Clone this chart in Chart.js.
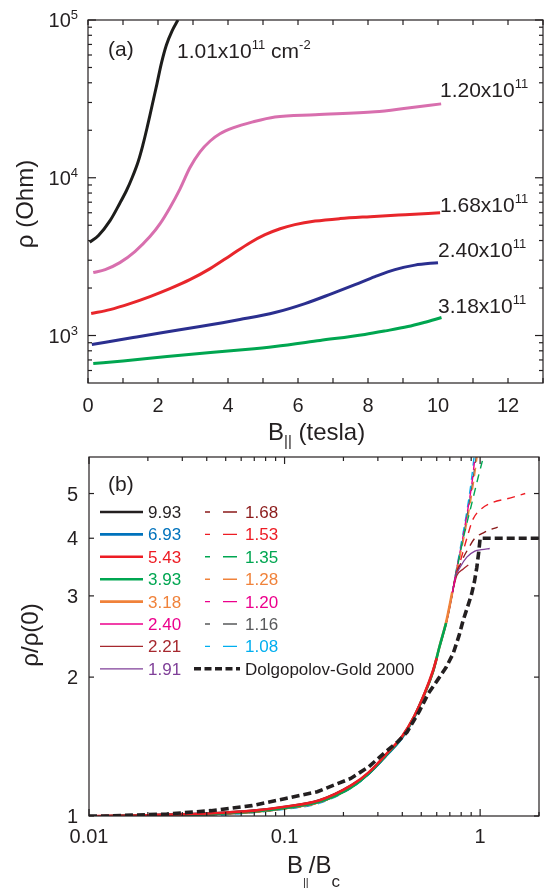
<!DOCTYPE html>
<html>
<head>
<meta charset="utf-8">
<script src="https://cdn.jsdelivr.net/npm/chart.js@4.4.0/dist/chart.umd.min.js"></script>
<style>
html, body { margin: 0; padding: 0; background: #fff; }
#wrap { position: relative; width: 550px; height: 889px; }
canvas { position: absolute; left: 0; top: 0; }
</style>
</head>
<body>
<div id="wrap">
  <canvas id="chartA" width="550" height="889"></canvas>
  <canvas id="chartB" width="550" height="889"></canvas>
</div>
<script>
// ---- panel (a): rho vs B (tesla), densities in 10^11 cm^-2
const densitiesA = ['1.01', '1.20', '1.68', '2.40', '3.18'];
const rho101 = [[0.05,3900],[0.3,4300],[0.63,5350],[0.91,6900],[1.1,8300],[1.26,10000],[1.43,12600],[1.57,16200],[1.7,21300],[1.83,28600],[1.97,39400],[2.1,53500],[2.24,69500],[2.4,85100],[2.57,100000]];
const rho120 = [[0.15,2506],[0.49,2618],[0.91,2897],[1.34,3404],[1.77,4236],[2.06,5117],[2.34,6457],[2.63,8511],[2.91,11560],[3.2,14600],[3.49,17100],[3.77,19000],[4.14,20700],[4.71,22600],[5.34,24300],[6.49,25100],[8.2,26200],[9.14,27700],[10.09,29400]];
const rho168 = [[0.09,1378],[0.63,1460],[1.2,1594],[1.77,1766],[2.34,1982],[2.91,2259],[3.49,2655],[4.06,3206],[4.63,3877],[5.06,4357],[5.49,4753],[5.91,5043],[6.49,5311],[7.2,5508],[8.06,5666],[9.06,5834],[10.06,6000]];
const rho240 = [[0.11,877],[1.29,971],[2.06,1037],[3.2,1140],[4.34,1263],[5.34,1398],[6.2,1594],[6.97,1844],[7.63,2101],[8.2,2362],[8.77,2618],[9.34,2794],[10.0,2897]];
const rho318 = [[0.15,665],[1.0,690],[2.26,736],[3.5,780],[4.5,815],[5.34,852],[6.63,930],[7.91,1015],[8.5,1070],[9.14,1140],[9.6,1210],[10.1,1300]];
const fieldLabelsA = [0, 2, 4, 6, 8, 10, 12];
const rhoDecades = [1e3, 1e4, 1e5];
const rhoExps = ['3', '4', '5'];

// ---- panel (b): rho/rho(0) vs B/Bc
const densitiesB = ['9.93','6.93','5.43','3.93','3.18','2.40','2.21','1.91','1.68','1.53','1.35','1.28','1.20','1.16','1.08'];
const s993 = [[0.012,1.0],[0.02,1.004],[0.03,1.008],[0.045,1.014],[0.07,1.027],[0.1,1.046],[0.15,1.08],[0.22,1.165],[0.27,1.24],[0.33,1.352]];
const s693 = [[0.014,1.0],[0.02,1.003],[0.03,1.007],[0.045,1.013],[0.07,1.025],[0.1,1.043],[0.15,1.075],[0.22,1.158],[0.27,1.236],[0.33,1.35],[0.4,1.48],[0.46,1.635],[0.5,1.77]];
const s543 = [[0.011,1.0],[0.02,1.004],[0.03,1.008],[0.045,1.015],[0.07,1.027],[0.1,1.047],[0.15,1.08],[0.22,1.166],[0.27,1.245],[0.33,1.36],[0.4,1.49],[0.46,1.645],[0.52,1.845],[0.575,2.07],[0.6,2.2]];
const s393 = [[0.013,1.0],[0.02,1.003],[0.03,1.006],[0.045,1.012],[0.07,1.023],[0.1,1.041],[0.15,1.073],[0.22,1.155],[0.27,1.238],[0.33,1.353],[0.4,1.485],[0.46,1.64],[0.52,1.84],[0.575,2.06],[0.62,2.33],[0.67,2.62]];
const s318 = [[0.015,1.0],[0.02,1.002],[0.03,1.006],[0.045,1.012],[0.07,1.022],[0.1,1.04],[0.15,1.072],[0.22,1.157],[0.27,1.24],[0.33,1.356],[0.4,1.487],[0.46,1.642],[0.52,1.842],[0.575,2.06],[0.62,2.33],[0.67,2.63],[0.72,3.05]];
const s240 = [[0.016,1.0],[0.03,1.006],[0.045,1.012],[0.07,1.024],[0.1,1.043],[0.15,1.076],[0.22,1.16],[0.27,1.24],[0.33,1.355],[0.4,1.486],[0.46,1.64],[0.52,1.84],[0.575,2.06],[0.62,2.33],[0.67,2.62],[0.72,3.04],[0.75,3.3]];
const s221 = [[0.018,1.0],[0.03,1.005],[0.045,1.011],[0.07,1.022],[0.1,1.04],[0.15,1.073],[0.22,1.158],[0.27,1.238],[0.33,1.352],[0.4,1.483],[0.46,1.638],[0.52,1.838],[0.575,2.055],[0.62,2.32],[0.67,2.61],[0.72,3.03],[0.76,3.32],[0.82,3.43],[0.87,3.5]];
const s191 = [[0.02,1.0],[0.03,1.004],[0.045,1.01],[0.07,1.021],[0.1,1.039],[0.15,1.072],[0.22,1.157],[0.27,1.237],[0.33,1.35],[0.4,1.482],[0.46,1.637],[0.52,1.836],[0.575,2.05],[0.62,2.32],[0.67,2.61],[0.72,3.02],[0.745,3.28],[0.79,3.46],[0.855,3.64],[0.94,3.75],[1.02,3.78],[1.12,3.8]];
const s168 = [[0.022,1.0],[0.03,1.004],[0.045,1.01],[0.07,1.02],[0.1,1.038],[0.15,1.07],[0.22,1.155],[0.27,1.236],[0.33,1.35],[0.4,1.482],[0.46,1.637],[0.52,1.84],[0.575,2.06],[0.62,2.33],[0.67,2.62],[0.72,3.04],[0.75,3.3],[0.8,3.55],[0.87,3.8],[0.94,4.0],[1.05,4.12],[1.23,4.23]];
const s153 = [[0.025,1.0],[0.045,1.01],[0.07,1.021],[0.1,1.04],[0.15,1.072],[0.22,1.157],[0.27,1.24],[0.33,1.356],[0.4,1.487],[0.46,1.642],[0.52,1.842],[0.575,2.06],[0.62,2.33],[0.67,2.63],[0.72,3.05],[0.75,3.32],[0.8,3.62],[0.855,4.0],[0.92,4.4],[1.02,4.64],[1.17,4.79],[1.37,4.87],[1.7,5.0]];
const s135 = [[0.028,1.0],[0.045,1.009],[0.07,1.02],[0.1,1.039],[0.15,1.071],[0.22,1.154],[0.27,1.237],[0.33,1.353],[0.4,1.485],[0.46,1.64],[0.52,1.84],[0.575,2.06],[0.62,2.33],[0.67,2.62],[0.72,3.04],[0.75,3.32],[0.82,4.0],[0.9,4.7],[0.98,5.45],[1.05,6.1]];
const s128 = [[0.03,1.0],[0.045,1.008],[0.07,1.019],[0.1,1.037],[0.15,1.07],[0.22,1.156],[0.27,1.238],[0.33,1.354],[0.4,1.486],[0.46,1.641],[0.52,1.841],[0.575,2.06],[0.62,2.33],[0.67,2.63],[0.72,3.05],[0.75,3.32],[0.82,3.95],[0.87,4.5],[0.92,5.2],[0.97,6.1]];
const s120 = [[0.032,1.0],[0.045,1.008],[0.07,1.02],[0.1,1.038],[0.15,1.071],[0.22,1.157],[0.27,1.24],[0.33,1.355],[0.4,1.486],[0.46,1.64],[0.52,1.84],[0.575,2.06],[0.62,2.33],[0.67,2.62],[0.72,3.04],[0.745,3.3],[0.81,3.95],[0.86,4.55],[0.91,5.3],[0.945,6.1]];
const s116 = [[0.035,1.0],[0.045,1.006],[0.07,1.018],[0.1,1.036],[0.15,1.068],[0.22,1.152],[0.27,1.235],[0.33,1.35],[0.4,1.482],[0.46,1.637],[0.52,1.838],[0.575,2.055],[0.62,2.32],[0.67,2.61],[0.72,3.03],[0.745,3.3],[0.81,3.9],[0.86,4.5],[0.91,5.2],[0.96,6.1]];
const s108 = [[0.04,1.0],[0.07,1.017],[0.1,1.034],[0.15,1.065],[0.22,1.15],[0.27,1.232],[0.33,1.348],[0.4,1.48],[0.46,1.636],[0.52,1.836],[0.575,2.05],[0.62,2.32],[0.67,2.61],[0.72,3.03],[0.745,3.3],[0.8,3.9],[0.85,4.5],[0.9,5.3],[0.935,6.1]];
const dolgopolovGold = [[0.01,1.0],[0.0125,1.0],[0.025,1.01],[0.042,1.027],[0.068,1.053],[0.1,1.09],[0.147,1.129],[0.218,1.206],[0.269,1.278],[0.329,1.378],[0.38,1.45],[0.423,1.52],[0.49,1.69],[0.542,1.84],[0.61,1.98],[0.67,2.1],[0.728,2.25],[0.78,2.46],[0.82,2.66],[0.865,2.85],[0.905,3.03],[0.935,3.22],[0.962,3.46],[0.985,3.75],[1.0,4.0],[2.0,4.0]];
const ratioLabelsB = [1, 2, 3, 4, 5];
const fieldLabelsB = [0.01, 0.1, 1];

const FONT = "'Liberation Sans', Arial, Helvetica, sans-serif";
const INK = '#231f20';

function pts(arr) { return arr.map(p => ({ x: p[0], y: p[1] })); }
function font(px) { return px + 'px ' + FONT; }
function line(ctx, x1, y1, x2, y2) { ctx.beginPath(); ctx.moveTo(x1, y1); ctx.lineTo(x2, y2); ctx.stroke(); }

// text made of pieces: [text, size, dy]
function drawRuns(ctx, runs, x, y, align) {
  let w = 0;
  const widths = runs.map(r => { ctx.font = font(r[1]); const m = ctx.measureText(r[0]).width; w += m; return m; });
  let cx = align === 'right' ? x - w : align === 'center' ? x - w / 2 : x;
  ctx.textAlign = 'left';
  ctx.textBaseline = 'alphabetic';
  runs.forEach((r, i) => { ctx.font = font(r[1]); ctx.fillText(r[0], cx, y + (r[2] || 0)); cx += widths[i]; });
}

function drawRotated(ctx, text, size, cx, cy) {
  ctx.save();
  ctx.translate(cx, cy);
  ctx.rotate(-Math.PI / 2);
  ctx.font = font(size);
  ctx.textAlign = 'center';
  ctx.textBaseline = 'middle';
  ctx.fillText(text, 0, 0);
  ctx.restore();
}

function logMinor(decades, lo, hi) {
  const out = [];
  decades.forEach(d => { for (let k = 2; k <= 9; k++) { const v = k * d; if (v > lo && v < hi) out.push(v); } });
  return out;
}

const panelA = {
  id: 'panelA',
  afterDatasetsDraw(chart) {
    const { ctx, chartArea: a, scales: { x, y } } = chart;
    ctx.save();
    ctx.strokeStyle = INK; ctx.fillStyle = INK; ctx.lineWidth = 1.2;
    ctx.strokeRect(a.left, a.top, a.right - a.left, a.bottom - a.top);
    for (let b = 0; b <= 13; b++) {
      const px = x.getPixelForValue(b);
      line(ctx, px, a.bottom, px, a.bottom - 5);
      line(ctx, px, a.top, px, a.top + 5);
    }
    logMinor([100, 1000, 10000], 500, 1e5).forEach(v => {
      const py = y.getPixelForValue(v);
      line(ctx, a.left, py, a.left + 4, py);
      line(ctx, a.right, py, a.right - 4, py);
    });
    rhoDecades.forEach(v => {
      const py = y.getPixelForValue(v);
      line(ctx, a.left, py, a.left + 8, py);
      line(ctx, a.right, py, a.right - 8, py);
    });
    fieldLabelsA.forEach(v => drawRuns(ctx, [[String(v), 20]], x.getPixelForValue(v), 412, 'center'));
    rhoDecades.forEach((v, i) => drawRuns(ctx, [['10', 20], [rhoExps[i], 13, -8]], 78, y.getPixelForValue(v) + 7, 'right'));

    drawRuns(ctx, [['B', 24], ['||', 15, 6], [' (tesla)', 24]], 268, 440, 'left');
    drawRotated(ctx, '\u03c1 (Ohm)', 24, 26, 204);
    drawRuns(ctx, [['(a)', 21]], 108, 56, 'left');

    drawRuns(ctx, [[densitiesA[0] + 'x10', 21], ['11', 13, -9.5], [' cm', 21], ['-2', 13, -9.5]], 177, 58, 'left');
    drawRuns(ctx, [[densitiesA[1] + 'x10', 21], ['11', 13, -9.5]], 440, 97, 'left');
    drawRuns(ctx, [[densitiesA[2] + 'x10', 21], ['11', 13, -9.5]], 440, 212, 'left');
    drawRuns(ctx, [[densitiesA[3] + 'x10', 21], ['11', 13, -9.5]], 438, 257, 'left');
    drawRuns(ctx, [[densitiesA[4] + 'x10', 21], ['11', 13, -9.5]], 438, 313, 'left');
    ctx.restore();
  }
};

const panelB = {
  id: 'panelB',
  afterDatasetsDraw(chart) {
    const { ctx, chartArea: a, scales: { x, y } } = chart;
    ctx.save();
    ctx.strokeStyle = INK; ctx.fillStyle = INK; ctx.lineWidth = 1.2;
    ctx.strokeRect(a.left, a.top, a.right - a.left, a.bottom - a.top);
    logMinor([0.01, 0.1, 1], 0.01, 2.01).forEach(v => {
      const px = x.getPixelForValue(v);
      line(ctx, px, a.bottom, px, a.bottom - 4);
      line(ctx, px, a.top, px, a.top + 4);
    });
    fieldLabelsB.forEach(v => {
      const px = x.getPixelForValue(v);
      line(ctx, px, a.bottom, px, a.bottom - 7);
      line(ctx, px, a.top, px, a.top + 7);
      drawRuns(ctx, [[String(v), 20]], px, 843, 'center');
    });
    ratioLabelsB.forEach(v => {
      const py = y.getPixelForValue(v);
      line(ctx, a.left, py, a.left + 5, py);
      line(ctx, a.right, py, a.right - 5, py);
      drawRuns(ctx, [[String(v), 20]], 78, py + 7, 'right');
    });

    drawRuns(ctx, [['B', 24], ['||', 11, 13], ['/B', 24], ['c', 17, 14]], 287, 873, 'left');
    drawRotated(ctx, '\u03c1/\u03c1(0)', 24, 31, 635);
    drawRuns(ctx, [['(b)', 21]], 108, 491, 'left');

    // legend, two columns
    chart.data.datasets.forEach((ds, i) => {
      const col = i < 8 ? 0 : 1;
      const row = i % 8;
      const cy = 512 + row * 22.4;
      const isModel = i === chart.data.datasets.length - 1;
      const x1 = col === 0 ? 100 : (isModel ? 194 : 205);
      const x2 = col === 0 ? 143 : (isModel ? 240 : 237);
      const tx = col === 0 ? 148 : 245;
      ctx.save();
      ctx.strokeStyle = ds.borderColor;
      ctx.lineWidth = ds.borderWidth;
      if (isModel) ctx.setLineDash([7, 3.5]);
      else if (col === 1) ctx.setLineDash([5, 13, 14, 60]);
      line(ctx, x1, cy, x2, cy);
      ctx.restore();
      ctx.fillStyle = isModel ? INK : ds.borderColor;
      drawRuns(ctx, [[ds.label, 17]], tx, cy + 6, 'left');
    });
    ctx.restore();
  }
};

function curveA(data, color) {
  return { data: pts(data), borderColor: color, borderWidth: 3, pointRadius: 0, fill: false };
}

new Chart(document.getElementById('chartA'), {
  type: 'line',
  data: {
    datasets: [
      Object.assign(curveA(rho101, '#1d1d1b'), { cubicInterpolationMode: 'default', tension: 0.35 }),
      curveA(rho120, '#d86fae'),
      curveA(rho168, '#e8262b'),
      curveA(rho240, '#2b2f8f'),
      curveA(rho318, '#00a650')
    ]
  },
  options: {
    responsive: false, animation: false, devicePixelRatio: 1,
    layout: { padding: { left: 88, top: 20, right: 7, bottom: 506 } },
    scales: {
      x: { type: 'linear', min: 0, max: 13, display: false },
      y: { type: 'logarithmic', min: 500, max: 100000, display: false }
    },
    plugins: { legend: { display: false }, tooltip: { enabled: false } },
    elements: { point: { radius: 0 }, line: { cubicInterpolationMode: 'monotone' } }
  },
  plugins: [panelA]
});

const DASH = [8, 6];
function curveB(label, data, color, width, dash, order) {
  return { label: label, data: pts(data), borderColor: color, borderWidth: width, borderDash: dash, order: order, pointRadius: 0, fill: false };
}

new Chart(document.getElementById('chartB'), {
  type: 'line',
  data: {
    datasets: [
      curveB(densitiesB[0], s993, '#231f20', 2.6, [], 10),
      curveB(densitiesB[1], s693, '#0072bc', 2.6, [], 3),
      curveB(densitiesB[2], s543, '#ed1c24', 2.6, [], 1),
      curveB(densitiesB[3], s393, '#00a651', 2.6, [], 2),
      curveB(densitiesB[4], s318, '#f0823a', 2.6, [], 4),
      curveB(densitiesB[5], s240, '#ec008c', 1.3, [], 5),
      curveB(densitiesB[6], s221, '#a6282e', 1.3, [], 6),
      curveB(densitiesB[7], s191, '#7f3f98', 1.3, [], 6),
      curveB(densitiesB[8], s168, '#8b1a1a', 1.4, DASH, 7),
      curveB(densitiesB[9], s153, '#ed1c24', 1.4, DASH, 7),
      curveB(densitiesB[10], s135, '#00a651', 1.4, DASH, 7),
      curveB(densitiesB[11], s128, '#f0823a', 1.4, DASH, 7),
      curveB(densitiesB[12], s120, '#ec008c', 1.4, DASH, 7),
      curveB(densitiesB[13], s116, '#58595b', 1.4, DASH, 7),
      curveB(densitiesB[14], s108, '#00aeef', 1.4, DASH, 7),
      Object.assign(curveB('Dolgopolov-Gold 2000', dolgopolovGold, '#231f20', 3.6, [8, 4], -1), { tension: 0, cubicInterpolationMode: 'default' })
    ]
  },
  options: {
    responsive: false, animation: false, devicePixelRatio: 1,
    layout: { padding: { left: 89, top: 457, right: 11, bottom: 73 } },
    scales: {
      x: { type: 'logarithmic', min: 0.01, max: 2, display: false },
      y: { type: 'logarithmic', min: 1, max: 6, display: false }
    },
    plugins: { legend: { display: false }, tooltip: { enabled: false } },
    elements: { point: { radius: 0 }, line: { cubicInterpolationMode: 'monotone' } }
  },
  plugins: [panelB]
});
</script>
</body>
</html>
